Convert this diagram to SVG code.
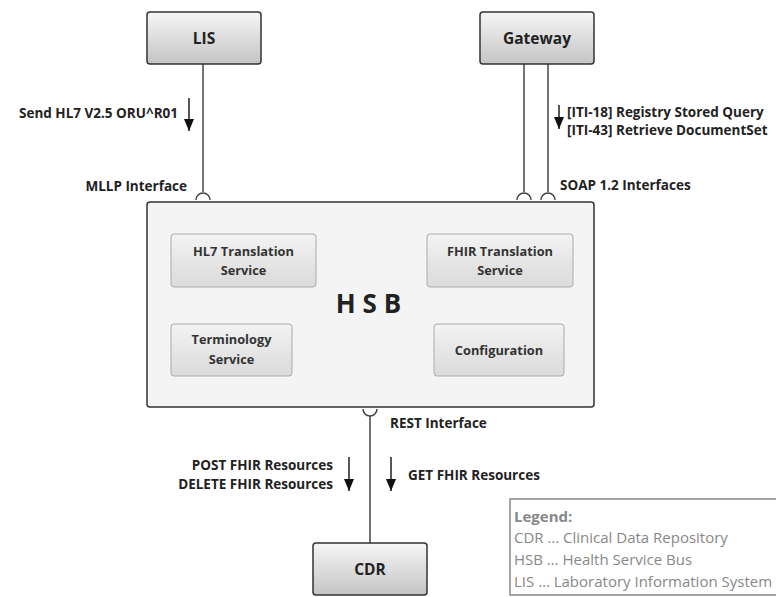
<svg xmlns="http://www.w3.org/2000/svg" width="776" height="597" viewBox="0 0 776 597">
<defs>
<linearGradient id="gSys" x1="0" y1="0" x2="0" y2="1">
<stop offset="0" stop-color="#f6f6f6"/><stop offset="1" stop-color="#c4c4c4"/>
</linearGradient>
<linearGradient id="gSvc" x1="0" y1="0" x2="0" y2="1">
<stop offset="0" stop-color="#f3f3f3"/><stop offset="1" stop-color="#dadada"/>
</linearGradient>
<marker id="ah" viewBox="0 0 12 10" refX="12" refY="5" markerWidth="12" markerHeight="10" markerUnits="userSpaceOnUse" orient="auto">
<path d="M0,0 L12,5 L0,10 Z" fill="#111"/>
</marker>
<style>
.sys{fill:url(#gSys);stroke:#333;stroke-width:1.5}
.svc{fill:url(#gSvc);stroke:#aaa;stroke-width:1}
.hsb{fill:#f4f4f4;stroke:#333;stroke-width:1.5}
.t{font-family:"Open Sans",Lato,"Liberation Sans",sans-serif;font-weight:bold;fill:#222}
.big{font-size:15.5px}
.lbl{font-size:13.5px}
.svct{font-size:12.8px;fill:#333}
.con{fill:none;stroke:#444;stroke-width:1.5}
.arr{fill:none;stroke:#111;stroke-width:1.4}
.lg{font-family:"Open Sans",Lato,"Liberation Sans",sans-serif;font-size:15px;fill:#888}
</style>
</defs>

<g id="connectors">
<path class="con" d="M203,64 V192"/>
<path class="con" d="M196,200 A7,7 0 0 1 210,200"/>
<path class="con" d="M524,64 V192"/>
<path class="con" d="M517,200 A7,7 0 0 1 531,200"/>
<path class="con" d="M548,64 V192"/>
<path class="con" d="M541,200 A7,7 0 0 1 555,200"/>
<path class="con" d="M363,409 A7,7 0 0 0 377,409"/>
<path class="con" d="M370,416 V543"/>
</g>

<g id="LIS">
<rect class="sys" x="147" y="12" width="114" height="52" rx="3"/>
<text class="t big" x="204" y="44" text-anchor="middle">LIS</text>
</g>
<g id="Gateway">
<rect class="sys" x="480" y="12" width="114" height="52" rx="3"/>
<text class="t big" x="537" y="44" text-anchor="middle">Gateway</text>
</g>
<g id="CDR">
<rect class="sys" x="313" y="543" width="114" height="52" rx="3"/>
<text class="t big" x="370" y="575" text-anchor="middle">CDR</text>
</g>

<g id="HSB">
<rect class="hsb" x="147" y="202" width="447" height="205" rx="3"/>
<text class="t" x="372" y="313" text-anchor="middle" font-size="26" letter-spacing="7" fill="#111">HSB</text>
</g>
<g id="HL7TranslationService">
<rect class="svc" x="171" y="234" width="145" height="53" rx="3"/>
<text class="t svct" x="243.5" y="256" text-anchor="middle">HL7 Translation</text>
<text class="t svct" x="243.5" y="275" text-anchor="middle">Service</text>
</g>
<g id="FHIRTranslationService">
<rect class="svc" x="427" y="234" width="146" height="53" rx="3"/>
<text class="t svct" x="500" y="256" text-anchor="middle">FHIR Translation</text>
<text class="t svct" x="500" y="275" text-anchor="middle">Service</text>
</g>
<g id="TerminologyService">
<rect class="svc" x="171" y="324" width="121" height="52" rx="3"/>
<text class="t svct" x="231.5" y="344" text-anchor="middle">Terminology</text>
<text class="t svct" x="231.5" y="364" text-anchor="middle">Service</text>
</g>
<g id="Configuration">
<rect class="svc" x="434" y="324" width="130" height="52" rx="3"/>
<text class="t svct" x="499" y="355" text-anchor="middle">Configuration</text>
</g>

<g id="labels">
<path class="arr" d="M189,98 V131" marker-end="url(#ah)"/>
<text class="t lbl" x="178" y="118" text-anchor="end">Send HL7 V2.5 ORU^R01</text>
<text class="t lbl" x="187" y="191" text-anchor="end">MLLP Interface</text>
<path class="arr" d="M559,105 V129" marker-end="url(#ah)"/>
<text class="t lbl" x="567" y="117">[ITI-18] Registry Stored Query</text>
<text class="t lbl" x="567" y="135">[ITI-43] Retrieve DocumentSet</text>
<text class="t lbl" x="560" y="190">SOAP 1.2 Interfaces</text>
<text class="t lbl" x="390" y="428">REST Interface</text>
<path class="arr" d="M349,457 V491" marker-end="url(#ah)"/>
<text class="t lbl" x="333" y="470" text-anchor="end">POST FHIR Resources</text>
<text class="t lbl" x="333" y="489" text-anchor="end">DELETE FHIR Resources</text>
<path class="arr" d="M391,457 V491" marker-end="url(#ah)"/>
<text class="t lbl" x="408" y="480">GET FHIR Resources</text>
</g>

<g id="legend">
<rect x="510" y="499" width="270" height="96" fill="#fff" stroke="#888" stroke-width="1.5"/>
<text class="lg" x="514" y="522" font-weight="bold" fill="#666" font-size="15.5">Legend:</text>
<text class="lg" x="514" y="543">CDR … Clinical Data Repository</text>
<text class="lg" x="514" y="565">HSB … Health Service Bus</text>
<text class="lg" x="514" y="587">LIS … Laboratory Information System</text>
</g>
</svg>
